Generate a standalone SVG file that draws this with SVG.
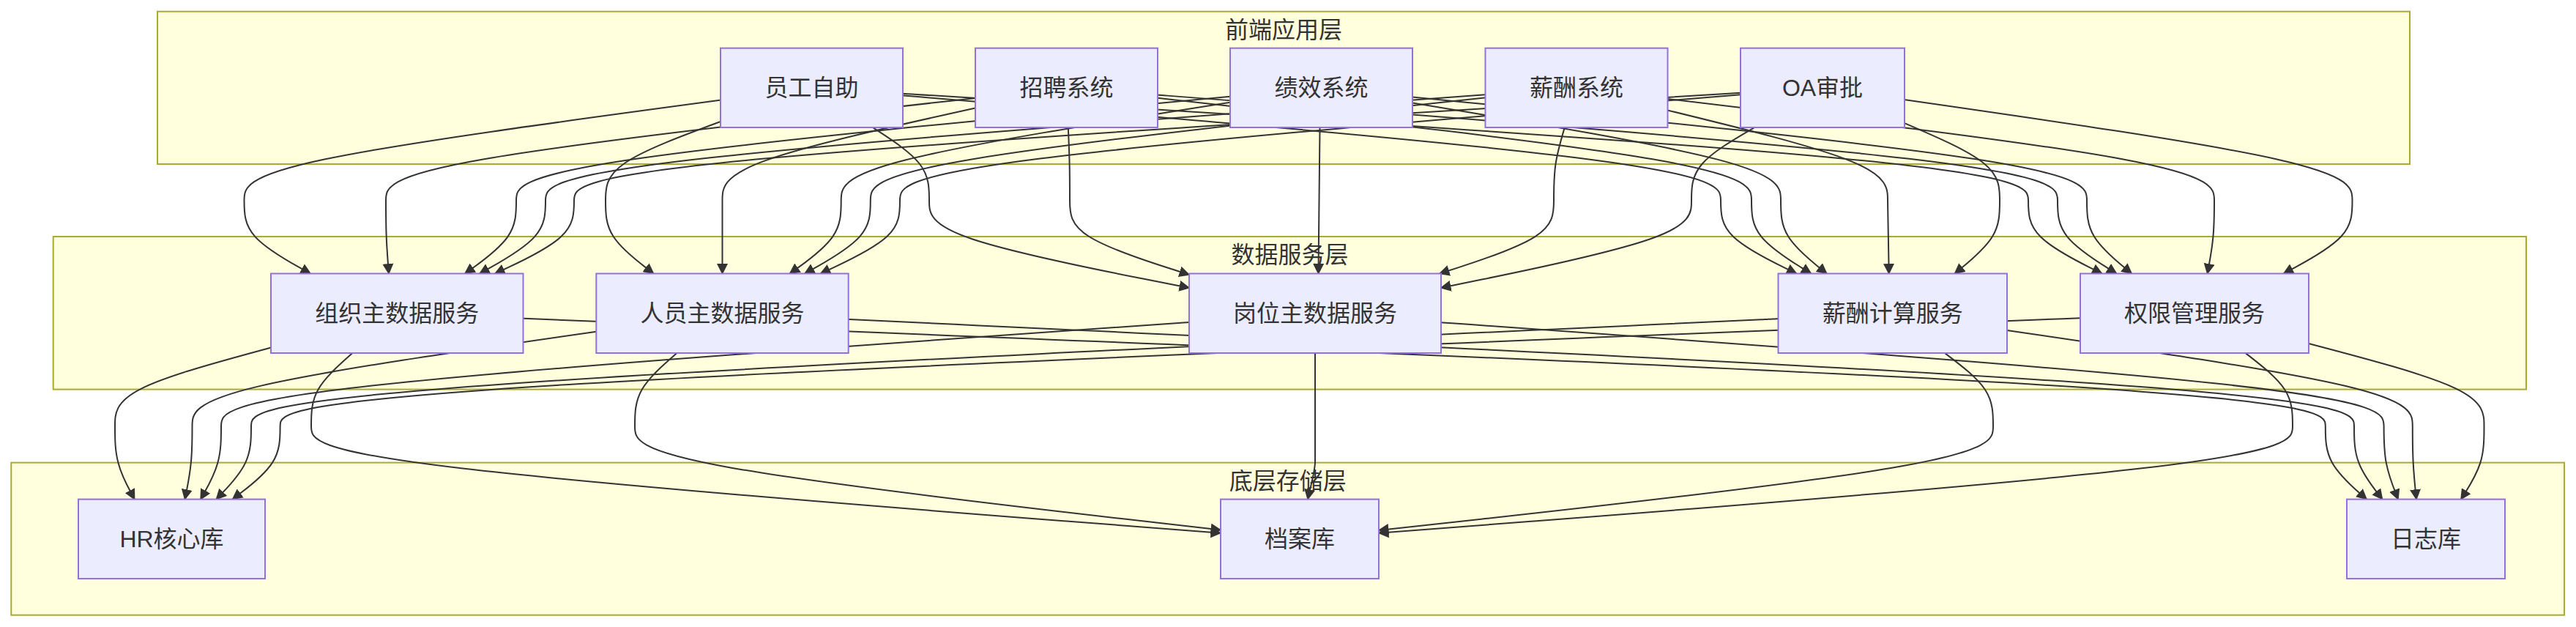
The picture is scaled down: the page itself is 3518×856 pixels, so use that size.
<svg xmlns="http://www.w3.org/2000/svg" width="3518" height="856" viewBox="0 0 3518 856">
<defs>
<style>
.cluster rect{fill:#ffffde;stroke:#aaaa33;stroke-width:2}
.node rect{fill:#ECECFF;stroke:#9370DB;stroke-width:2}
text{font-family:"Liberation Sans","Noto Sans CJK SC",sans-serif;font-size:32px;fill:#333;text-anchor:middle;dominant-baseline:central}
#edges path{fill:none;stroke:#333;stroke-width:2;marker-end:url(#arrow)}
</style>
<marker id="arrow" viewBox="0 0 10 10" refX="9" refY="5" markerUnits="userSpaceOnUse" markerWidth="15" markerHeight="15" orient="auto"><path d="M0,0 L10,5 L0,10 z" fill="#333"/></marker>
</defs>
<rect width="3518" height="856" fill="#ffffff"/>
<g id="clusters">
<g class="cluster" id="cluster_frontend"><rect x="215" y="15.7" width="3076" height="208.3"/><text x="1753" y="41">前端应用层</text></g>
<g class="cluster" id="cluster_service"><rect x="72.7" y="323" width="3377.3" height="208.6"/><text x="1761.4" y="348">数据服务层</text></g>
<g class="cluster" id="cluster_storage"><rect x="15.3" y="631.6" width="3486.7" height="208.1"/><text x="1758.7" y="657">底层存储层</text></g>
</g>
<g id="edges">
<path d="M984,136.7 C767.2,165.8 550.3,194.9 441.9,217.8 C333.5,240.7 333.5,257.3 333.5,273.8 C333.5,290.3 333.5,306.7 348.6,323.3 C363.7,339.8 393.8,356.7 408.9,365.1 L424,373.5"/>
<path d="M1332,133.9 C1063.7,163.9 795.3,194 661.2,217.3 C527,240.7 527,257.3 527,273.8 C527,290.3 527,306.7 527.7,323.3 C528.3,339.8 529.7,356.7 530.3,365.1 L531,373.5"/>
<path d="M1680,131.8 C1355,162.5 1030,193.3 867.5,217 C705,240.7 705,257.3 705,273.8 C705,290.3 705,306.7 693.3,323.3 C681.7,339.8 658.3,356.7 646.7,365.1 L635,373.5"/>
<path d="M2028.3,129.2 C1600.5,160.8 1172.8,192.4 958.9,216.5 C745,240.7 745,257.3 745,273.8 C745,290.3 745,306.7 730,323.3 C715,339.8 685,356.7 670,365.1 L655,373.5"/>
<path d="M2377,126.8 C1846,159.2 1315,191.6 1049.5,216.1 C784,240.7 784,257.3 784,273.8 C784,290.3 784,306.7 766,323.3 C748,339.8 712,356.7 694,365.1 L676,373.5"/>
<path d="M984,166 C931.7,185.3 879.3,204.7 853.2,222.7 C827,240.7 827,257.3 827,273.8 C827,290.3 827,306.7 837.9,323.3 C848.9,339.8 870.7,356.7 881.7,365.1 L892.6,373.5"/>
<path d="M1332,147.5 C1216.8,173 1101.7,198.5 1044.1,219.6 C986.5,240.7 986.5,257.3 986.5,273.8 L986.5,373.5"/>
<path d="M1680,139.7 C1502.9,167.8 1325.8,195.9 1237.3,218.3 C1148.7,240.7 1148.7,257.3 1148.7,273.8 C1148.7,290.3 1148.7,306.7 1137,323.3 C1125.3,339.8 1102,356.7 1090.3,365.1 L1078.6,373.5"/>
<path d="M2028.3,133.4 C1748.5,163.6 1468.6,193.8 1328.7,217.2 C1188.8,240.7 1188.8,257.3 1188.8,273.8 C1188.8,290.3 1188.8,306.7 1173.8,323.3 C1158.9,339.8 1128.9,356.7 1114,365.1 L1099,373.5"/>
<path d="M2377,129.2 C1994.3,160.8 1611.7,192.4 1420.3,216.5 C1229,240.7 1229,257.3 1229,273.8 C1229,290.3 1229,306.7 1210.9,323.3 C1192.9,339.8 1156.7,356.7 1138.7,365.1 L1120.6,373.5"/>
<path d="M1191.8,174 C1217.5,190.7 1243.3,207.3 1256.1,224 C1269,240.7 1269,257.3 1269,273.8 C1269,290.3 1269,306.7 1328.2,326.5 C1387.3,346.3 1505.7,369.7 1564.8,381.3 L1624,393"/>
<path d="M1458.8,174 C1459.5,190.7 1460.3,207.3 1460.6,224 C1461,240.7 1461,257.3 1461,273.8 C1461,290.3 1461,306.7 1488.2,323.5 C1515.3,340.3 1569.7,357.7 1596.8,366.3 L1624,375"/>
<path d="M1802.5,174 L1800.5,373.5"/>
<path d="M2136.8,174 C2131.9,190.7 2126.9,207.3 2124.5,224 C2122,240.7 2122,257.3 2122,273.8 C2122,290.3 2122,306.7 2096,323.3 C2070,339.8 2018,356.7 1992,365.1 L1966,373.5"/>
<path d="M2396.1,174 C2367.4,190.7 2338.7,207.3 2324.4,224 C2310,240.7 2310,257.3 2310,273.8 C2310,290.3 2310,306.7 2253,326.5 C2196,346.3 2082,369.7 2025,381.3 L1968,393"/>
<path d="M1233,130.4 C1605.3,161.6 1977.7,192.8 2163.8,216.7 C2350,240.7 2350,257.3 2350,273.8 C2350,290.3 2350,306.7 2367.3,323.3 C2384.5,339.8 2419,356.7 2436.3,365.1 L2453.5,373.5"/>
<path d="M1581,133.8 C1851.3,163.9 2121.7,193.9 2256.8,217.3 C2392,240.7 2392,257.3 2392,273.8 C2392,290.3 2392,306.7 2405.6,323.3 C2419.1,339.8 2446.3,356.7 2459.8,365.1 L2473.4,373.5"/>
<path d="M1929,140.6 C2096.7,168.4 2264.3,196.2 2348.2,218.4 C2432,240.7 2432,257.3 2432,273.8 C2432,290.3 2432,306.7 2442.5,323.3 C2452.9,339.8 2473.9,356.7 2484.3,365.1 L2494.8,373.5"/>
<path d="M2277.3,150.5 C2377.5,175 2477.8,199.5 2527.9,220.1 C2578,240.7 2578,257.3 2578,273.8 L2579.7,373.5"/>
<path d="M2601,168.1 C2644.3,186.7 2687.7,205.4 2709.3,223 C2731,240.7 2731,257.3 2731,273.8 C2731,290.3 2731,306.7 2720.8,323.3 C2710.5,339.8 2690,356.7 2679.8,365.1 L2669.5,373.5"/>
<path d="M1233,127.8 C1745.3,159.9 2257.7,191.9 2513.8,216.3 C2770,240.7 2770,257.3 2770,273.8 C2770,290.3 2770,306.7 2786.8,323.3 C2803.5,339.8 2837.1,356.7 2853.8,365.1 L2870.6,373.5"/>
<path d="M1581,129.6 C1990.7,161.1 2400.3,192.5 2605.2,216.6 C2810,240.7 2810,257.3 2810,273.8 C2810,290.3 2810,306.7 2823.4,323.3 C2836.8,339.8 2863.7,356.7 2877.1,365.1 L2890.5,373.5"/>
<path d="M1929,132.4 C2236,162.9 2543,193.5 2696.5,217.1 C2850,240.7 2850,257.3 2850,273.8 C2850,290.3 2850,306.7 2860.2,323.3 C2870.4,339.8 2890.8,356.7 2901,365.1 L2911.2,373.5"/>
<path d="M2277.3,134.9 C2526.2,164.6 2775.1,194.3 2899.6,217.5 C3024,240.7 3024,257.3 3024,273.8 C3024,290.3 3024,306.7 3022.4,323.3 C3020.9,339.8 3017.7,356.7 3016.2,365.1 L3014.6,373.5"/>
<path d="M2601,136.1 C2804.8,165.4 3008.7,194.7 3110.6,217.7 C3212.5,240.7 3212.5,257.3 3212.5,273.8 C3212.5,290.3 3212.5,306.7 3196.9,323.3 C3181.2,339.8 3150,356.7 3134.3,365.1 L3118.7,373.5"/>
<path d="M370,474.5 C299,493.7 228,512.8 192.5,530.8 C157,548.7 157,565.3 157,582 C157,598.7 157,615.3 161.5,631.9 C165.9,648.5 174.8,665.1 179.3,673.3 L183.7,681.6"/>
<path d="M814.3,452.7 C630.4,479.1 446.4,505.6 354.5,527.1 C262.5,548.7 262.5,565.3 262.5,582 C262.5,598.7 262.5,615.3 260.8,631.9 C259.2,648.5 255.8,665.1 254.2,673.3 L252.5,681.6"/>
<path d="M1624,440 C1183.3,470.7 742.7,501.3 522.3,525 C302,548.7 302,565.3 302,582 C302,598.7 302,615.3 297.3,631.9 C292.7,648.5 283.3,665.1 278.7,673.3 L274,681.6"/>
<path d="M2428.5,435.2 C1733.3,467.5 1038.2,499.7 690.6,524.2 C343,548.7 343,565.3 343,582 C343,598.7 343,615.3 335.1,631.9 C327.1,648.5 311.3,665.1 303.3,673.3 L295.4,681.6"/>
<path d="M2841,434.2 C2021.5,466.8 1202.1,499.4 792.3,524 C382.6,548.7 382.6,565.3 382.6,582 C382.6,598.7 382.6,615.3 371.8,631.9 C360.9,648.5 339.3,665.1 328.4,673.3 L317.6,681.6"/>
<path d="M481.4,482 C462.6,498.7 443.8,515.3 434.4,532 C425,548.7 425,565.3 425,582 C425,598.7 425,615.3 632,639.6 C839,663.9 1253,695.8 1460,711.8 L1667,727.7"/>
<path d="M924.5,482 C905.3,498.7 886.2,515.3 876.6,532 C867,548.7 867,565.3 867,582 C867,598.7 867,615.3 1000.3,638.9 C1133.7,662.5 1400.3,693.1 1533.7,708.3 L1667,723.6"/>
<path d="M1796,482 L1796,632 C1795,648.5 1789.3,665.1 1786,681.6"/>
<path d="M2656,482 C2678,498.7 2700,515.3 2711,532 C2722,548.7 2722,565.3 2722,582 C2722,598.7 2722,615.3 2582.2,639 C2442.3,662.7 2162.7,693.3 2022.8,708.7 L1883,724"/>
<path d="M3066.6,482 C3088.1,498.7 3109.5,515.3 3120.3,532 C3131,548.7 3131,565.3 3131,582 C3131,598.7 3131,615.3 2923,639.6 C2715,663.9 2299,695.8 2091,711.8 L1883,727.7"/>
<path d="M714.5,434.8 C1534.9,467.2 2355.4,499.6 2765.6,524.1 C3175.8,548.7 3175.8,565.3 3175.8,582 C3175.8,598.7 3175.8,615.3 3185.2,631.9 C3194.5,648.5 3213.3,665.1 3222.6,673.3 L3232,681.6"/>
<path d="M1158.7,436 C1844.1,468 2529.6,500 2872.3,524.3 C3215,548.7 3215,565.3 3215,582 C3215,598.7 3215,615.3 3221.4,631.9 C3227.8,648.5 3240.7,665.1 3247.1,673.3 L3253.5,681.6"/>
<path d="M1968,440.3 C2397.2,470.9 2826.4,501.4 3041,525.1 C3255.6,548.7 3255.6,565.3 3255.6,582 C3255.6,598.7 3255.6,615.3 3258.8,631.9 C3262.1,648.5 3268.5,665.1 3271.8,673.3 L3275,681.6"/>
<path d="M2741,450.9 C2925.6,477.9 3110.2,505 3202.5,526.8 C3294.8,548.7 3294.8,565.3 3294.8,582 C3294.8,598.7 3294.8,615.3 3295.7,631.9 C3296.5,648.5 3298.3,665.1 3299.1,673.3 L3300,681.6"/>
<path d="M3153,469 C3232.8,490 3312.7,511 3352.6,529.8 C3392.5,548.7 3392.5,565.3 3392.5,582 C3392.5,598.7 3392.5,615.3 3387.3,631.9 C3382,648.5 3371.5,665.1 3366.3,673.3 L3361,681.6"/>
</g>
<g id="nodes">
<g class="node" id="node_ygzz"><rect x="984" y="65.7" width="249" height="108.3"/><text x="1108.5" y="120">员工自助</text></g>
<g class="node" id="node_zpxt"><rect x="1332" y="65.7" width="249" height="108.3"/><text x="1456.5" y="120">招聘系统</text></g>
<g class="node" id="node_jxxt"><rect x="1680" y="65.7" width="249" height="108.3"/><text x="1804.5" y="120">绩效系统</text></g>
<g class="node" id="node_xcxt"><rect x="2028.5" y="65.7" width="249" height="108.3"/><text x="2153" y="120">薪酬系统</text></g>
<g class="node" id="node_oasp"><rect x="2377" y="65.7" width="224" height="108.3"/><text x="2489" y="120">OA审批</text></g>
<g class="node" id="node_zzzsj"><rect x="370" y="373.5" width="344.5" height="108.5"/><text x="542.25" y="428">组织主数据服务</text></g>
<g class="node" id="node_ryzsj"><rect x="814.3" y="373.5" width="344.4" height="108.5"/><text x="986.5" y="428">人员主数据服务</text></g>
<g class="node" id="node_gwzsj"><rect x="1624" y="373.5" width="344" height="108.5"/><text x="1796" y="428">岗位主数据服务</text></g>
<g class="node" id="node_xcjs"><rect x="2428.5" y="373.5" width="312.5" height="108.5"/><text x="2584.75" y="428">薪酬计算服务</text></g>
<g class="node" id="node_qxgl"><rect x="2841" y="373.5" width="312" height="108.5"/><text x="2997" y="428">权限管理服务</text></g>
<g class="node" id="node_hrdb"><rect x="107" y="681.6" width="255" height="108.4"/><text x="234.5" y="736">HR核心库</text></g>
<g class="node" id="node_dak"><rect x="1667" y="681.6" width="216" height="108.4"/><text x="1775" y="736">档案库</text></g>
<g class="node" id="node_rzk"><rect x="3205" y="681.6" width="216" height="108.4"/><text x="3313" y="736">日志库</text></g>
</g>
</svg>
